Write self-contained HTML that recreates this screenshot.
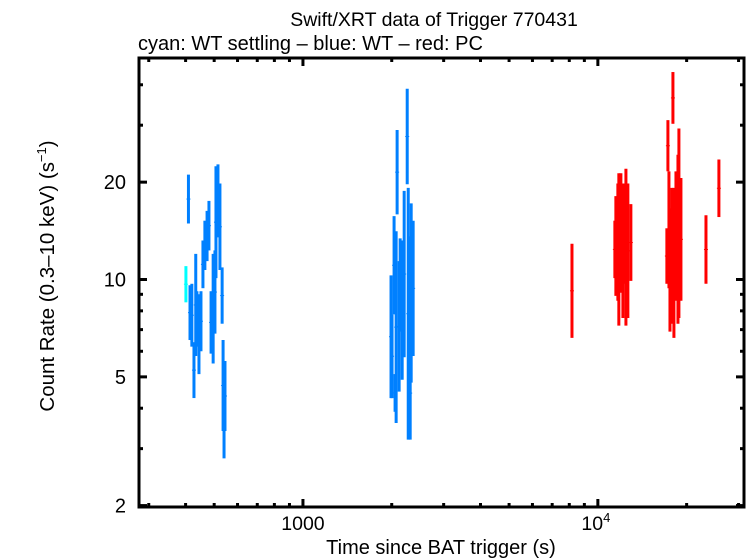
<!DOCTYPE html>
<html><head><meta charset="utf-8"><style>
html,body{margin:0;padding:0;background:#fff}
svg{display:block;font-family:"Liberation Sans",Arial,sans-serif}
</style></head><body>
<svg id="chart" width="746" height="558" viewBox="0 0 746 558" xmlns="http://www.w3.org/2000/svg">
<text x="434" y="26" font-size="19.5" text-anchor="middle">Swift/XRT data of Trigger 770431</text>
<text x="138" y="50" font-size="20">cyan: WT settling – blue: WT – red: PC</text>
<text x="441" y="554" font-size="20" text-anchor="middle">Time since BAT trigger (s)</text>
<text transform="translate(54,276) rotate(-90)" font-size="20.5" text-anchor="middle">Count Rate (0.3–10 keV) (s<tspan font-size="13" dy="-8">−1</tspan><tspan dy="8">)</tspan></text>
<g id="marks"></g>
<g id="axes"></g>
</svg>
<script>
const cyanT=[401], cyanLo=[8.5], cyanHi=[11.0];
const blueT=[409,414,420,427,433,437,444,451,458,465,473,480,488,496,503,507,515,523,532,536,540,544,
 1989,2005,2037,2053,2070,2086,2119,2136,2170,2204,2257,2275,2292,2310,2328,2364];
const blueLo=[14.9,6.5,6.2,4.3,5.8,6.2,5.1,6.0,9.4,10.7,11.4,12.3,5.9,5.5,6.8,10.1,13.5,10.7,7.3,3.4,2.8,3.4,
 4.3,4.3,7.8,3.9,3.6,15.9,4.5,6.9,4.9,5.75,19.7,3.2,4.2,3.2,4.8,5.8];
const blueHi=[21.1,9.6,9.7,6.4,12.0,9.2,9.0,9.2,13.2,15.2,16.3,17.5,9.2,12.0,12.3,22.4,22.7,19.8,10.9,6.5,4.9,5.6,
 10.3,7.8,15.7,5.1,14.1,29.0,11.4,13.4,13.2,18.8,38.9,19.2,13.6,6.2,17.2,15.2];
const redT=[8170,11420,11510,11690,11780,11970,12160,12250,12450,12640,12940,
 17140,17280,17420,17560,17830,17970,18110,18400,18690,18830,19130,23260,25730];
const redLo=[6.6,10.1,8.9,8.6,7.2,9.1,7.6,9.7,7.2,7.6,9.9,
 9.7,21.6,9.4,6.9,7.3,30.3,6.6,8.6,7.3,7.6,8.6,9.7,15.6];
const redHi=[12.9,15.2,18.1,19.8,21.3,21.3,19.8,19.8,22.0,19.8,17.1,
 14.4,31.1,21.6,16.6,19.2,43.8,19.2,21.6,24.3,29.3,20.6,15.8,23.5];
const yTickVals=[2,5,10,20];
const yTickLabels=["2","5","10","20"];
const xTickVals=[1000,10000];

const L=139,R=744,T=58,B=507;
const X0=278,X1=31300, Y0=1.98, Y1=48.4;
const lx=Math.log10(X0), hx=Math.log10(X1), ly=Math.log10(Y0), hy=Math.log10(Y1);
function xs(v){return L+(Math.log10(v)-lx)/(hx-lx)*(R-L);}
function ys(v){return B-(Math.log10(v)-ly)/(hy-ly)*(B-T);}
const NS="http://www.w3.org/2000/svg";
const marks=document.getElementById('marks'), axes=document.getElementById('axes');
function mk(tag,attrs,parent){const e=document.createElementNS(NS,tag);for(const k in attrs)e.setAttribute(k,attrs[k]);parent.appendChild(e);return e;}
function series(T_,Lo,Hi,color,name){
  for(let i=0;i<T_.length;i++){
    const x=xs(T_[i]);
    const e=mk('line',{x1:x,x2:x,y1:ys(Lo[i]),y2:ys(Hi[i]),stroke:color,'stroke-width':3},marks);
    
    
    const c=Math.sqrt(Lo[i]*Hi[i]);
    const h=mk('line',{x1:x-2,x2:x+2,y1:ys(c),y2:ys(c),stroke:color,'stroke-width':1},marks);
    
    
  }
}
series(cyanT,cyanLo,cyanHi,'#00ffff','wt-settling');
series(blueT,blueLo,blueHi,'#0080ff','wt');
series(redT,redLo,redHi,'#ff0000','pc');

const fr=mk('rect',{x:L,y:T,width:R-L,height:B-T,fill:'none',stroke:'#000','stroke-width':3},axes);


for(let d=100;d<=100000;d*=10){
  for(let m=1;m<10;m++){
    const v=d*m; if(v<X0||v>X1) continue;
    const x=xs(v), len=(m===1)?8:4;
    const t1=mk('line',{x1:x,x2:x,y1:B,y2:B-len,stroke:'#000','stroke-width':3},axes);
    
    
    const t2=mk('line',{x1:x,x2:x,y1:T,y2:T+len,stroke:'#000','stroke-width':3},axes);
    
    
  }
}
for(let d=1;d<=100;d*=10){
  for(let m=1;m<10;m++){
    const v=d*m; if(v<Y0||v>Y1) continue;
    const y=ys(v), len=(yTickVals.indexOf(v)>=0)?8:4;
    const t1=mk('line',{x1:L,x2:L+len,y1:y,y2:y,stroke:'#000','stroke-width':3},axes);
    
    
    const t2=mk('line',{x1:R,x2:R-len,y1:y,y2:y,stroke:'#000','stroke-width':3},axes);
    
    
  }
}
yTickVals.forEach((v,i)=>{
  const t=mk('text',{x:126,y:ys(v)+7,'font-size':20,'text-anchor':'end'},axes);
  t.textContent=yTickLabels[i];
  
  
});
{
  const t=mk('text',{x:xs(xTickVals[0]),y:530,'font-size':19.5,'text-anchor':'middle'},axes);
  t.textContent='1000';
  
  
  const t2=mk('text',{x:xs(xTickVals[1])-2,y:530,'font-size':19.5,'text-anchor':'middle'},axes);
  t2.innerHTML='10<tspan font-size="13" dy="-8">4</tspan>';
  
  
}
</script>
</body></html>
